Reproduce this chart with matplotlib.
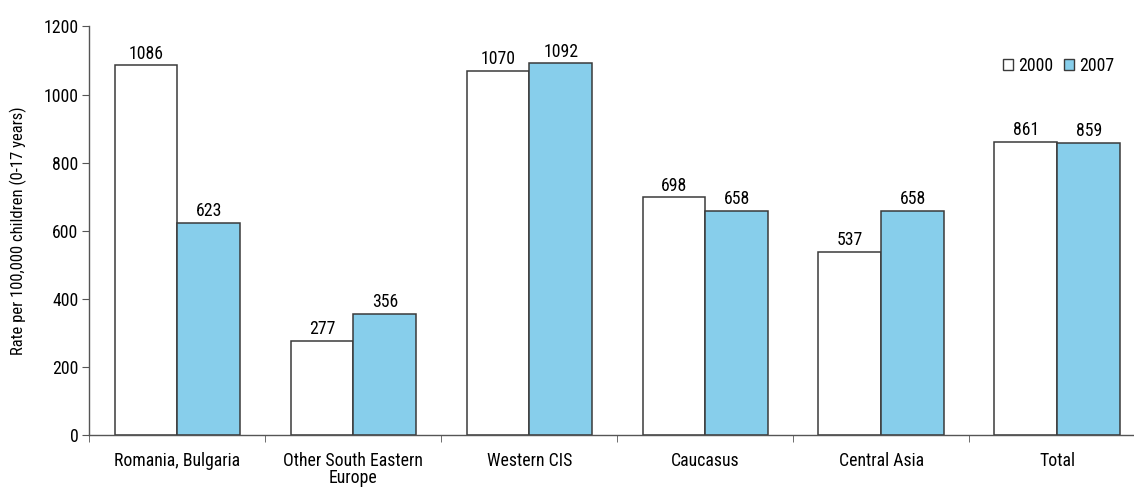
import numpy as np
import matplotlib
matplotlib.use("Agg")
import matplotlib.pyplot as plt
from matplotlib.patches import Patch

plt.rcParams['font.family'] = ['Roboto Condensed', 'Liberation Sans Narrow', 'Liberation Sans', 'DejaVu Sans']

# datos
regiones = ["Romania, Bulgaria", "Other South Eastern\nEurope", "Western CIS",
            "Caucasus", "Central Asia", "Total"]
valores_2000 = [1086, 277, 1070, 698, 537, 861]
valores_2007 = [623, 356, 1092, 658, 658, 859]
anios = ["2000", "2007"]

color_borde = "#3a3a3a"
color_azul = "#87CEEB"
tam = 12.8

fig = plt.figure(figsize=(11.34, 4.87), dpi=100)
ax = fig.add_axes([0.0789, 0.1068, 0.931, 0.8388])

x = np.arange(len(regiones))
ancho = 0.357
b1 = ax.bar(x - ancho / 2, valores_2000, ancho, color="white",
            edgecolor=color_borde, linewidth=1.1, label=anios[0])
b2 = ax.bar(x + ancho / 2, valores_2007, ancho, color=color_azul,
            edgecolor=color_borde, linewidth=1.1, label=anios[1])

# etiquetas de valor encima de cada barra
for barras in (b1, b2):
    for b in barras:
        ax.text(b.get_x() + b.get_width() / 2, b.get_height() + 8,
                f"{int(b.get_height())}", ha="center", va="bottom", fontsize=tam)

ax.set_xlim(-0.5, len(regiones) - 0.5)
ax.set_ylim(0, 1200)
ax.set_yticks(np.arange(0, 1201, 200))
ax.set_xticks(x)
ax.set_xticklabels(regiones, fontsize=tam, linespacing=0.95)
ax.set_xticks(np.arange(-0.5, len(regiones), 1), minor=True)
ax.tick_params(axis="x", which="major", length=0, pad=12)
ax.tick_params(axis="x", which="minor", length=5, direction="out", color="#555555")
ax.tick_params(axis="y", length=5, direction="out", color="#555555", labelsize=tam, pad=3)

for lado in ("top", "right"):
    ax.spines[lado].set_visible(False)
for lado in ("left", "bottom"):
    ax.spines[lado].set_color("#555555")
    ax.spines[lado].set_linewidth(1.0)

ax.set_ylabel("Rate per 100,000 children (0-17 years)", fontsize=12)
ax.yaxis.set_label_coords(-0.0595, 0.5)

handles = [Patch(facecolor="white", edgecolor=color_borde, linewidth=1.0),
           Patch(facecolor=color_azul, edgecolor=color_borde, linewidth=1.0)]
fig.legend(handles, anios, loc="center", bbox_to_anchor=(1059 / 1134, 1 - 66 / 487),
           ncol=2, frameon=False, fontsize=tam, handlelength=0.55, handleheight=0.55,
           handletextpad=0.3, columnspacing=0.6)

fig.savefig("out.png", dpi=100)
